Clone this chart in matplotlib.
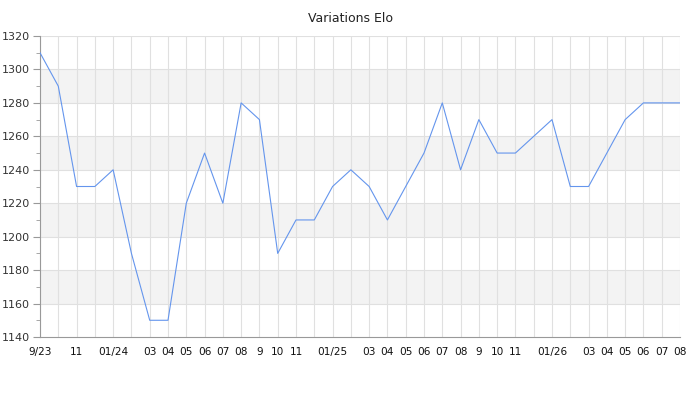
import numpy as np
import matplotlib
matplotlib.use('Agg')
import matplotlib.pyplot as plt
from matplotlib.ticker import MultipleLocator

# mois de 9/2023 a 08/2026
mois = np.arange(36)
elo = [1310, 1290, 1230, 1230, 1240, 1190, 1150, 1150, 1220, 1250, 1220, 1280,
       1270, 1190, 1210, 1210, 1230, 1240, 1230, 1210, 1230, 1250, 1280, 1240,
       1270, 1250, 1250, 1260, 1270, 1230, 1230, 1250, 1270, 1280, 1280, 1280]

pos_ticks = [0, 2, 4, 6, 7, 8, 9, 10, 11, 12, 13, 14, 16, 18, 19, 20, 21, 22, 23,
             24, 25, 26, 28, 30, 31, 32, 33, 34, 35]
etiquettes = ['9/23', '11', '01/24', '03', '04', '05', '06', '07', '08', '9', '10', '11',
              '01/25', '03', '04', '05', '06', '07', '08', '9', '10', '11',
              '01/26', '03', '04', '05', '06', '07', '08']

fig = plt.figure(figsize=(7, 4), dpi=100)
ax = fig.add_axes([40/700, 1 - 337/400, 640/700, 301/400])

for y0 in [1160, 1200, 1240, 1280]:
    ax.axhspan(y0, y0 + 20, color='#f3f3f3', zorder=0, lw=0)

for m in mois:
    ax.axvline(m, color='#e0e0e0', lw=0.8, zorder=1)
for y in range(1160, 1321, 20):
    ax.axhline(y, color='#e0e0e0', lw=0.8, zorder=1)

ax.plot(mois, elo, color='#6495ed', lw=0.8, zorder=3)

ax.set_xlim(0, 35)
ax.set_ylim(1140, 1320)
ax.yaxis.set_major_locator(MultipleLocator(20))
ax.yaxis.set_minor_locator(MultipleLocator(10))
ax.set_xticks(pos_ticks)
ax.set_xticklabels(etiquettes)

for s in ['top', 'right']:
    ax.spines[s].set_visible(False)
for s in ['left', 'bottom']:
    ax.spines[s].set_color('#999999')
    ax.spines[s].set_linewidth(0.8)

ax.tick_params(axis='y', which='major', length=5, color='#999999', labelsize=8,
               labelcolor='#333333', pad=2)
ax.tick_params(axis='y', which='minor', length=3, color='#999999')
ax.tick_params(axis='x', length=0, labelsize=7.6, labelcolor='#111111', pad=7)

fig.suptitle('Variations Elo', y=0.97, fontsize=9, color='#222222')

plt.savefig('out.png', dpi=100)
